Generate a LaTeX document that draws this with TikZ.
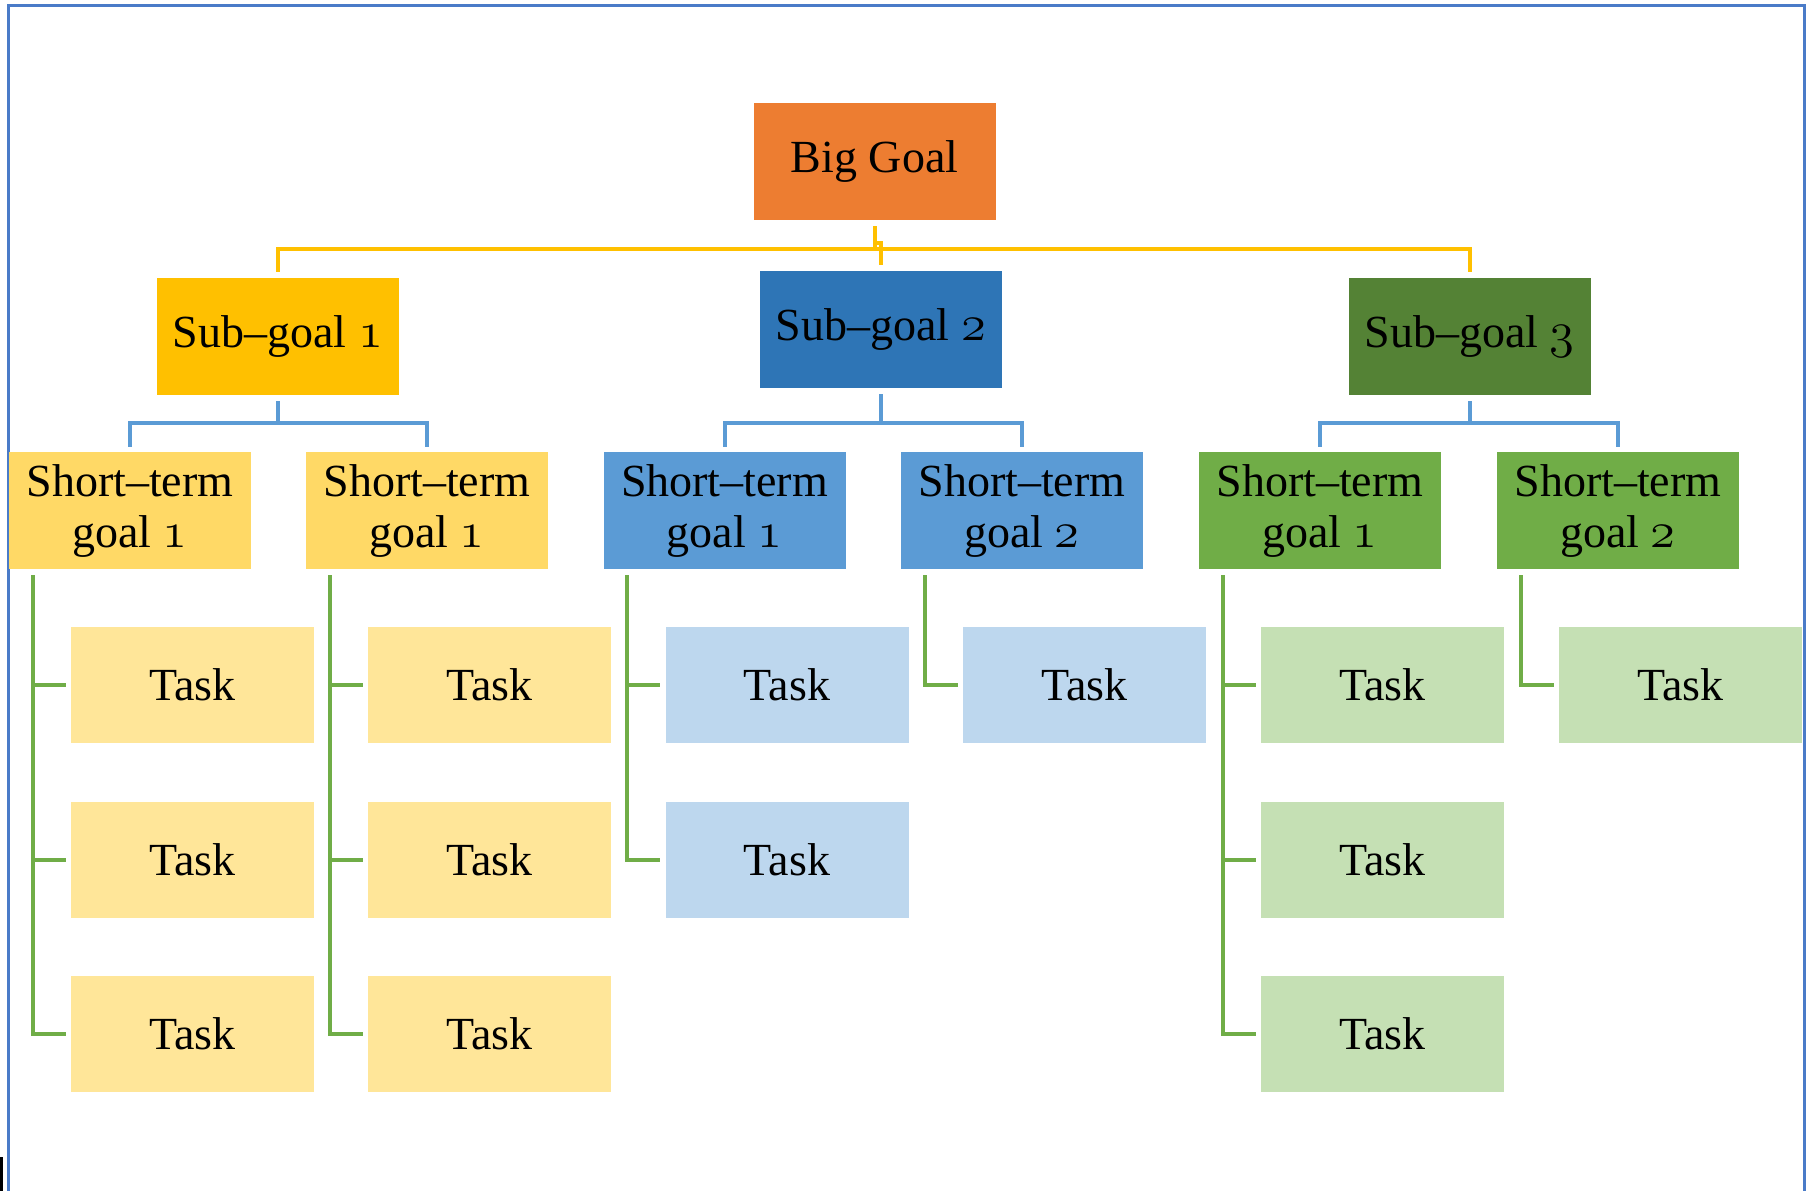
\RequirePackage{fix-cm}
\documentclass[tikz,border=0pt]{standalone}
\usepackage{fontspec}
\setmainfont{Liberation Serif}
\usetikzlibrary{calc}
\definecolor{cBig}{HTML}{ED7D31}
\definecolor{cSgY}{HTML}{FFC000}
\definecolor{cSgB}{HTML}{2E75B6}
\definecolor{cSgG}{HTML}{548235}
\definecolor{cStY}{HTML}{FFD966}
\definecolor{cStB}{HTML}{5B9BD5}
\definecolor{cStG}{HTML}{70AD47}
\definecolor{cTkY}{HTML}{FFE699}
\definecolor{cTkB}{HTML}{BDD7EE}
\definecolor{cTkG}{HTML}{C5E0B4}
\definecolor{cFrame}{HTML}{4A7BC8}
\newcommand\boxfont{\fontsize{46}{51}\selectfont}
\newcommand\osn[1]{\scalebox{1.1}{$\mathnormal{#1}$}}
\begin{document}
\begin{tikzpicture}[x=1pt,y=-1pt,
  gbox/.style={rectangle, inner sep=0pt, minimum width=242pt, minimum height=117pt, align=center, font=\boxfont, text=black},
  tbox/.style={gbox, minimum width=243pt, minimum height=116pt},
  ycon/.style={draw=cSgY, line width=4pt},
  bcon/.style={draw=cStB, line width=4pt},
  gcon/.style={draw=cStG, line width=4pt}]
\useasboundingbox (0,0) rectangle (1810,1191);
\fill[white] (0,0) rectangle (1810,1191);
% frame
\draw[cFrame, line width=3pt] (8,1195) -- (8,5) -- (1804,5) -- (1804,1195);
\fill[black] (0,1157) rectangle (2.5,1191);

% level 0 / 1
\node[gbox, fill=cBig] (big) at (874.5,161.5) {Big Goal};
\node[gbox, fill=cSgY] (sg1) at (278,336.5) {Sub–goal \osn{1}};
\node[gbox, fill=cSgB] (sg2) at (881,329.5) {Sub–goal \osn{2}};
\node[gbox, fill=cSgG] (sg3) at (1469.5,336.5) {Sub–goal \osn{3}};

% level 2
\node[gbox, fill=cStY] (st1) at (130,510.5) {Short–term\\goal \osn{1}};
\node[gbox, fill=cStY] (st2) at (427,510.5) {Short–term\\goal \osn{1}};
\node[gbox, fill=cStB] (st3) at (724.5,510.5) {Short–term\\goal \osn{1}};
\node[gbox, fill=cStB] (st4) at (1022,510.5) {Short–term\\goal \osn{2}};
\node[gbox, fill=cStG] (st5) at (1320,510.5) {Short–term\\goal \osn{1}};
\node[gbox, fill=cStG] (st6) at (1618,510.5) {Short–term\\goal \osn{2}};

% tasks
\node[tbox, fill=cTkY] (t11) at (192.5,685) {Task};
\node[tbox, fill=cTkY] (t12) at (192.5,859.5) {Task};
\node[tbox, fill=cTkY] (t13) at (192.5,1033.5) {Task};
\node[tbox, fill=cTkY] (t21) at (489.5,685) {Task};
\node[tbox, fill=cTkY] (t22) at (489.5,859.5) {Task};
\node[tbox, fill=cTkY] (t23) at (489.5,1033.5) {Task};
\node[tbox, fill=cTkB] (t31) at (787,685) {Task};
\node[tbox, fill=cTkB] (t32) at (787,859.5) {Task};
\node[tbox, fill=cTkB] (t41) at (1084.5,685) {Task};
\node[tbox, fill=cTkG] (t51) at (1382.5,685) {Task};
\node[tbox, fill=cTkG] (t52) at (1382.5,859.5) {Task};
\node[tbox, fill=cTkG] (t53) at (1382.5,1033.5) {Task};
\node[tbox, fill=cTkG] (t61) at (1680.5,685) {Task};

% yellow connectors
\draw[ycon] ($(sg1.north)+(0,-6)$) -- ++(0,-23) -| ($(sg3.north)+(0,-6)$);
\draw[ycon] ($(big.south)+(0,6)$) -- ++(0,17) -| ($(sg2.north)+(0,-6)$);
\draw[ycon] ($(big.south)+(0,22)$) -- ($(big.south)+(0,29)$);

% blue connectors
\coordinate (bbus) at (0,423);
\draw[bcon] ($(sg1.south)+(0,6)$) -- (sg1.south |- bbus);
\draw[bcon] ($(st1.north)+(0,-5)$) |- (bbus -| st2.north) -- ($(st2.north)+(0,-5)$);
\draw[bcon] ($(sg2.south)+(0,6)$) -- (sg2.south |- bbus);
\draw[bcon] ($(st3.north)+(0,-5)$) |- (bbus -| st4.north) -- ($(st4.north)+(0,-5)$);
\draw[bcon] ($(sg3.south)+(0,6)$) -- (sg3.south |- bbus);
\draw[bcon] ($(st5.north)+(0,-5)$) |- (bbus -| st6.north) -- ($(st6.north)+(0,-5)$);

% green connectors
\foreach \s/\t in {st1/t11, st1/t12, st1/t13, st2/t21, st2/t22, st2/t23, st3/t31, st3/t32, st4/t41, st5/t51, st5/t52, st5/t53, st6/t61}{
  \draw[gcon] ($(\s.south west)+(24,6)$) |- ($(\t.west)+(-5,0)$);
}
\end{tikzpicture}
\end{document}
